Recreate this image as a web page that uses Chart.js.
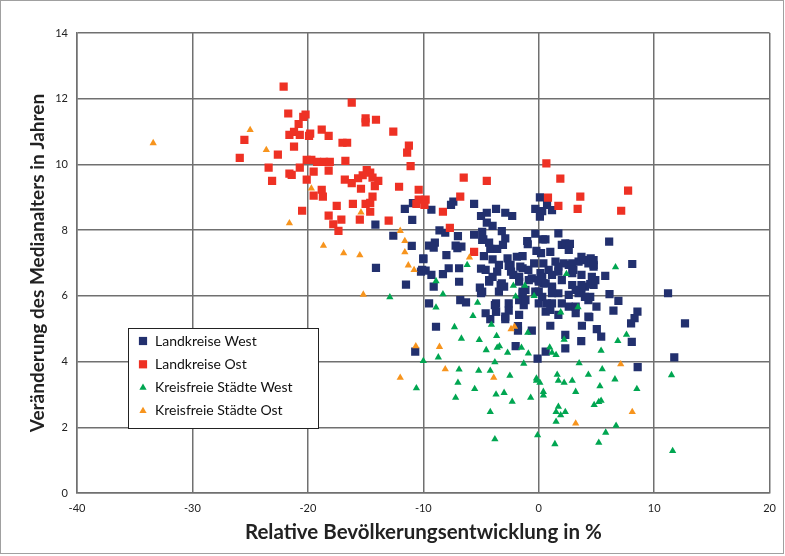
<!DOCTYPE html>
<html>
<head>
<meta charset="utf-8">
<script src="https://cdn.jsdelivr.net/npm/chart.js@4.4.1/dist/chart.umd.min.js"></script>
<style>
  html, body { margin: 0; padding: 0; background: #fff; }
  #wrap { width: 785px; height: 556px; }
</style>
</head>
<body>
<div id="wrap"><canvas id="chart" width="785" height="556"></canvas></div>
<script>
// [relative Bevölkerungsentwicklung %, Veränderung Medianalter]
const landkreiseWest = [
  [0.1,9.0],[-5.6,8.8],[-7.4,8.87],[-7.6,8.77],[-9.3,8.62],[-3.7,8.65],[-4.5,8.53],[-2.9,8.53],[-2.3,8.43],[-5.0,8.43],
  [-0.3,8.65],[0.3,8.58],[0.1,8.41],[-4.5,8.23],[-4.0,8.13],[-8.6,7.99],[-8.1,7.92],[-7.0,7.82],[-5.6,7.86],[-4.9,7.95],
  [-4.8,7.72],[-3.2,7.97],[-2.9,7.75],[-0.3,7.89],[0.35,7.72],[-9.0,7.62],[-9.5,7.53],[-9.1,7.47],[-7.2,7.53],[-6.7,7.5],
  [-7.05,7.45],[-4.9,7.7],[-4.3,7.62],[-4.2,7.43],[-3.6,7.43],[-3.1,7.55],[-1.0,7.67],[-0.95,7.57],[-0.2,7.37],[0.2,7.3],
  [-10.0,7.14],[-8.0,7.24],[-4.75,7.21],[-4.0,7.11],[-2.7,7.14],[-1.9,7.19],[-1.4,7.21],[-3.45,6.94],[-2.44,6.94],[-7.8,6.84],
  [-6.9,6.84],[-0.4,6.99],[0.4,6.99],[-5.0,6.83],[-11.6,8.65],[-14.15,8.17],[-10.96,8.31],[-12.6,7.83],[-11.0,7.52],[-10.9,8.82],
  [-14.1,6.85],[-10.0,7.12],[-10.2,6.74],[-9.8,6.77],[-11.5,6.34],[-9.5,5.77],[-8.9,5.06],[-10.7,4.3],[-10.1,6.79],[-9.3,6.64],
  [-9.1,6.28],[-8.3,6.66],[-6.9,6.43],[-5.1,6.25],[-5.0,6.08],[-4.3,6.48],[-4.0,6.58],[-3.3,6.33],[-3.0,6.28],[-2.4,6.74],
  [-2.2,6.64],[-1.4,6.84],[-0.9,6.79],[-2.6,6.91],[-1.7,6.58],[-1.4,6.08],[-0.6,6.53],[0.0,6.48],[0.4,6.38],[-1.15,6.18],
  [-0.3,6.13],[0.3,5.97],[-1.7,5.87],[-1.3,5.72],[-6.8,5.87],[-6.3,5.8],[-3.8,5.72],[-3.7,5.52],[-2.6,5.55],[-4.2,5.29],
  [-2.9,5.29],[-1.8,5.08],[-1.8,4.94],[-0.6,4.94],[-2.0,4.47],[0.6,4.3],[-0.1,4.09],[1.7,7.9],[2.0,7.55],[2.6,7.4],
  [1.0,7.34],[1.45,7.04],[2.6,6.94],[3.45,7.04],[4.3,6.99],[3.7,7.19],[4.5,7.14],[-4.6,6.79],[-3.6,6.74],[-1.6,6.89],
  [0.15,6.69],[0.86,6.79],[1.7,6.74],[2.9,6.69],[3.7,6.64],[4.6,6.58],[-4.3,6.43],[-3.2,6.38],[-1.7,6.43],[-0.86,6.48],
  [0.0,6.43],[0.6,6.38],[1.15,6.28],[2.0,6.48],[2.9,6.33],[4.0,6.28],[4.75,6.33],[-4.9,6.13],[-3.45,6.13],[-1.4,6.13],
  [0.0,6.13],[1.15,6.08],[2.6,6.03],[3.7,6.13],[-3.7,5.77],[-2.6,5.77],[-1.15,5.87],[0.0,5.77],[1.15,5.77],[2.6,5.67],
  [4.3,5.87],[-4.6,5.47],[-3.7,5.52],[-2.9,5.37],[-1.7,5.42],[0.6,5.52],[1.7,5.42],[3.2,5.47],[4.3,5.37],[8.1,6.97],
  [4.75,6.94],[5.76,6.61],[4.46,6.36],[4.9,6.48],[6.13,6.05],[6.9,5.85],[6.47,5.55],[8.55,5.52],[8.3,5.32],[8.0,5.16],
  [11.2,6.08],[12.67,5.16],[4.38,5.35],[3.74,5.09],[1.0,5.09],[5.03,4.99],[5.41,4.76],[2.3,4.81],[3.68,4.62],[2.3,4.4],
  [8.06,4.6],[11.74,4.13],[8.57,3.83],[5.0,5.67],[4.46,5.97],[4.0,5.97],[3.45,6.08],[1.0,5.57],[0.7,5.77],[2.9,6.99],
  [2.16,6.99],[1.7,6.89],[3.0,6.79],[3.7,6.33],[3.2,6.18],[1.7,6.08],[1.15,6.23],[0.3,6.58],[1.15,6.64],[3.2,5.67],
  [2.0,5.77],[0.58,7.72],[2.3,7.6],[2.7,7.58],[6.1,7.65],[4.75,7.09],[4.75,6.89],[0.72,8.77],[1.15,8.61],[3.9,7.09]
];
const landkreiseOst = [
  [-22.1,12.37],[-21.7,11.55],[-20.4,11.45],[-20.2,11.52],[-20.8,11.23],[-18.8,11.06],[-21.6,10.9],[-21.2,10.99],[-20.7,10.9],[-19.9,10.87],
  [-19.8,10.94],[-18.2,10.87],[-25.5,10.75],[-21.2,10.54],[-22.6,10.3],[-25.9,10.2],[-20.1,10.14],[-19.7,10.14],[-19.2,10.08],[-18.6,10.08],
  [-18.1,10.08],[-23.4,9.9],[-20.7,9.9],[-19.5,9.78],[-18.2,9.81],[-21.6,9.72],[-21.4,9.68],[-23.1,9.5],[-20.1,9.54],[-18.8,9.23],
  [-19.5,9.05],[-18.7,9.02],[-20.5,8.59],[-18.2,8.44],[-16.2,11.88],[-15.0,11.4],[-15.0,11.28],[-14.1,11.36],[-12.6,11.0],[-17.0,10.66],
  [-16.6,10.66],[-11.25,10.57],[-11.4,10.36],[-16.75,10.11],[-11.1,9.95],[-14.9,9.83],[-14.6,9.75],[-15.25,9.67],[-15.65,9.58],[-16.8,9.54],
  [-13.9,9.5],[-14.4,9.6],[-16.2,9.43],[-14.2,9.34],[-15.4,9.26],[-12.1,9.32],[-10.4,9.23],[-14.4,9.02],[-6.5,9.6],[-4.5,9.5],
  [-6.8,9.02],[-17.5,8.74],[-16.1,8.8],[-15.0,8.8],[-14.6,8.83],[-14.6,8.56],[-10.4,8.93],[-9.8,8.93],[-10.6,8.8],[-9.9,8.77],
  [-8.3,8.56],[-17.1,8.32],[-15.5,8.32],[-13.0,8.29],[-17.8,8.18],[-17.35,7.98],[-7.7,8.07],[-5.6,7.34],[0.66,10.03],[0.8,8.99],
  [1.87,9.57],[1.7,8.74],[3.6,9.02],[3.37,8.65],[7.74,9.2],[7.14,8.59]
];
const staedteWest = [
  [-12.9,5.96],[-10.0,4.02],[-10.6,3.19],[-8.9,5.65],[-8.7,4.13],[-6.2,6.94],[-8.9,6.45],[-8.3,6.05],[-5.3,5.79],[-5.7,5.39],
  [-7.3,5.05],[-4.1,5.12],[-3.65,4.78],[-6.7,4.7],[-5.15,4.66],[-3.4,4.47],[-3.6,4.42],[-4.55,4.35],[-2.7,4.27],[-2.2,6.31],
  [-1.2,6.31],[-2.0,5.98],[-0.4,6.0],[-0.95,4.88],[-1.5,4.42],[-0.9,4.25],[-1.3,3.94],[-3.8,3.98],[-5.2,3.72],[-6.9,3.76],
  [-4.2,3.72],[-2.5,3.57],[-0.2,3.49],[-7.0,3.36],[-5.55,3.17],[-7.2,2.9],[-3.7,3.0],[-3.0,3.05],[-2.3,2.78],[-0.7,2.9],
  [-0.2,3.42],[0.1,3.36],[0.4,3.08],[0.4,2.97],[-4.2,2.47],[-3.8,1.64],[-0.1,1.76],[3.5,3.95],[5.5,3.77],[1.6,3.6],
  [1.7,3.42],[2.2,3.36],[2.9,3.42],[4.3,3.6],[6.6,3.46],[5.3,3.25],[8.5,3.17],[3.2,3.08],[4.8,2.68],[5.2,2.77],
  [5.4,2.81],[1.7,2.63],[1.5,2.47],[2.3,2.47],[1.9,2.37],[1.5,2.17],[6.7,2.05],[5.8,1.84],[1.4,1.49],[5.2,1.53],
  [11.6,1.28],[11.5,3.59],[6.65,6.87],[2.4,6.67],[3.4,5.66],[1.9,5.5],[2.2,4.67],[6.85,4.63],[7.6,4.82],[5.4,4.33],
  [0.95,4.43],[1.15,4.27],[1.5,4.2]
];
const staedteOst = [
  [-33.4,10.65],[-25.0,11.05],[-23.6,10.44],[-19.7,9.27],[-21.6,8.21],[-18.65,7.53],[-15.4,8.54],[-12.0,7.98],[-11.6,7.67],[-16.9,7.3],
  [-15.5,7.24],[-11.6,7.33],[-11.3,6.93],[-10.8,6.79],[-15.2,6.04],[-6.0,7.17],[-10.65,4.47],[-12.0,3.51],[-8.1,3.77],[-3.9,3.51],
  [-2.4,4.99],[-2.1,5.06],[-8.6,4.45],[7.1,3.92],[8.1,2.47],[3.2,2.12]
];
const seriesNames = ['Landkreise West', 'Landkreise Ost', 'Kreisfreie Städte West', 'Kreisfreie Städte Ost'];
const xTicks = [-40, -30, -20, -10, 0, 10, 20];
const yTicks = [0, 2, 4, 6, 8, 10, 12, 14];

const FONT = 'Lato, "Open Sans", sans-serif';
const toXY = arr => arr.map(p => ({ x: p[0], y: p[1] }));

const styles = [
  { color: '#22306e', pointStyle: 'rect', radius: 5.8 },
  { color: '#ee3124', pointStyle: 'rect', radius: 5.8 },
  { color: '#00a651', pointStyle: 'triangle', radius: 4.2 },
  { color: '#f7941d', pointStyle: 'triangle', radius: 4.2 },
];
const allData = [landkreiseWest, landkreiseOst, staedteWest, staedteOst];

// legend box inside the plot + thin frame round the picture
const boxLegend = {
  id: 'boxLegend',
  afterDraw(chart) {
    const ctx = chart.ctx;
    ctx.save();
    ctx.fillStyle = '#fff';
    ctx.fillRect(128, 328, 190, 100);
    ctx.strokeStyle = '#222';
    ctx.lineWidth = 1;
    ctx.strokeRect(128.5, 328.5, 190, 100);
    chart.data.datasets.forEach((ds, i) => {
      const y = 341 + i * 23.3;
      ctx.fillStyle = ds.backgroundColor;
      Chart.helpers.drawPoint(ctx, {
        pointStyle: ds.pointStyle, radius: ds.pointRadius, rotation: 0, borderWidth: 0
      }, 143, y);
      ctx.fillStyle = '#111';
      ctx.font = '14px ' + FONT;
      ctx.textBaseline = 'middle';
      ctx.textAlign = 'left';
      ctx.fillText(ds.label, 155, y);
    });
    ctx.strokeStyle = '#a0a0a0';
    ctx.strokeRect(0.5, 0.5, 783, 553);
    ctx.restore();
  }
};

new Chart(document.getElementById('chart'), {
  type: 'scatter',
  data: {
    datasets: allData.map((arr, i) => ({
      label: seriesNames[i],
      data: toXY(arr),
      backgroundColor: styles[i].color,
      borderColor: styles[i].color,
      borderWidth: 0,
      pointStyle: styles[i].pointStyle,
      pointRadius: styles[i].radius,
      pointHoverRadius: styles[i].radius,
      order: 4 - i,
    })),
  },
  options: {
    responsive: false,
    animation: false,
    layout: { padding: { left: 0, right: 13, top: 33, bottom: 0 } },
    plugins: {
      legend: { display: false },
      tooltip: { enabled: false },
    },
    scales: {
      x: {
        type: 'linear',
        min: -40,
        max: 20,
        afterBuildTicks: scale => { scale.ticks = xTicks.map(v => ({ value: v })); },
        afterFit: scale => { scale.height = 63; },
        grid: { color: '#707070', lineWidth: 1.5, drawTicks: false },
        border: { color: '#707070', width: 1.5 },
        ticks: { padding: 9, color: '#222', font: { size: 11, family: FONT } },
        title: {
          display: true,
          text: 'Relative Bevölkerungsentwicklung in %',
          color: '#222',
          font: { size: 20.5, weight: 'bold', family: FONT },
          padding: { top: 0, bottom: 11 },
        },
      },
      y: {
        type: 'linear',
        min: 0,
        max: 14,
        afterBuildTicks: scale => { scale.ticks = yTicks.map(v => ({ value: v })); },
        afterFit: scale => { scale.width = 77; },
        grid: { color: '#707070', lineWidth: 1.5, drawTicks: false },
        border: { color: '#707070', width: 1.5 },
        ticks: { padding: 9, color: '#222', font: { size: 11, family: FONT } },
        title: {
          display: true,
          text: 'Veränderung des Medianalters in Jahren',
          color: '#222',
          font: { size: 19, weight: 'bold', family: FONT },
          padding: { top: 26, bottom: 0 },
        },
      },
    },
  },
  plugins: [boxLegend],
});
</script>
</body>
</html>
